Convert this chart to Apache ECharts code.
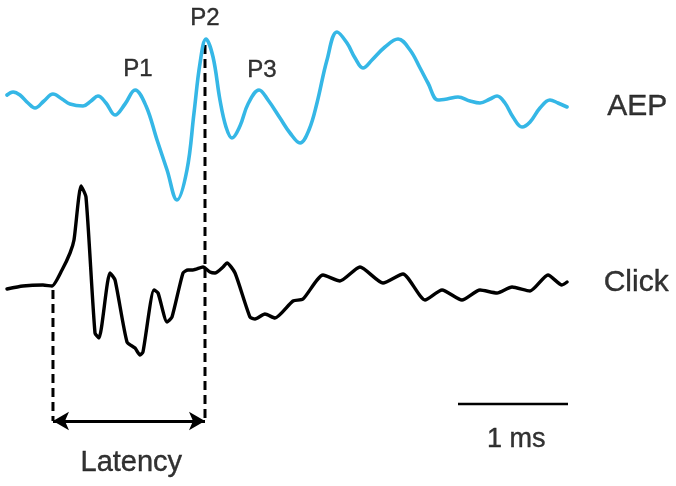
<!DOCTYPE html>
<html><head><meta charset="utf-8">
<script src="https://cdn.jsdelivr.net/npm/echarts@6/dist/echarts.min.js"></script>
<style>html,body{margin:0;padding:0;background:#fff}#c{width:676px;height:486px}</style>
</head><body><div id="c"></div>
<script>
// time in ms, amplitude in arbitrary units
const aepTime = [0,0.055,0.118,0.191,0.255,0.336,0.418,0.500,0.573,0.691,0.764,0.827,0.900,0.982,1.073,1.164,1.264,1.364,1.455,1.545,1.636,1.700,1.755,1.809,1.873,1.936,1.991,2.045,2.118,2.191,2.291,2.373,2.482,2.573,2.664,2.745,2.818,2.909,3.000,3.091,3.164,3.236,3.318,3.436,3.555,3.664,3.755,3.827,3.918,4.000,4.100,4.209,4.300,4.391,4.455,4.527,4.600,4.682,4.755,4.845,4.936,5.009,5.091];
const aepAmp  = [5,8,5,-3,-8,-1,6,1,-4,-6,-1,4,-3,-15,-4,10,-6,-40,-70,-100,-70,-13,37,61,43,0,-27,-38,-26,-4,10,0,-18,-33,-43,-30,-3,40,68,57,42,32,40,53,61,50,32,17,0,1,3,-1,-3,1,4,-3,-17,-27,-22,-8,0,-3,-7];
const clickTime = [0,0.145,0.327,0.409,0.5,0.573,0.609,0.673,0.718,0.8,0.836,0.936,0.982,1.091,1.164,1.209,1.236,1.336,1.373,1.455,1.5,1.6,1.645,1.691,1.782,1.845,1.891,1.964,2.0,2.073,2.209,2.255,2.345,2.436,2.6,2.691,2.873,3.027,3.209,3.418,3.6,3.8,3.955,4.136,4.3,4.455,4.591,4.755,4.918,5.045,5.091];
const clickAmp  = [-2,1,2,1,17,34,47,101,90,-46,-51,14,7,-55,-61,-68,-65,-3,-6,-35,-30,14,17,17,20,15,14,20,24,14,-30,-32,-27,-31,-14,-12,12,6,20,4,13,-13,-3,-13,-3,-6,0,-4,12,2,5];
const traceNames = ['AEP','Click'];
const peakNames = ['P1','P2','P3'];
const latencyStart = 0.418, latencyEnd = 1.800;
const scaleBarMs = 1;
const scaleBarLabel = '1 ms';
const latencyLabel = 'Latency';

const aepOffset = 386, clickOffset = 199;
const aepData = aepTime.map((t,i)=>[t, aepOffset + aepAmp[i]]);
const clickData = clickTime.map((t,i)=>[t, clickOffset + clickAmp[i]]);
const FONT = '"Liberation Sans", Arial, Helvetica, sans-serif';
const dash = {color:'#000', width:3, type:[9,5]};
const arrowY = 65;

function textSeries(items, size){
  return {type:'scatter', symbolSize:0, silent:true, z:5,
    data: items.map(d=>({name:d[0], value:[d[1],d[2]]})),
    label:{show:true, position:'inside', formatter:'{b}', color:'#000', fontSize:size, fontFamily:FONT, align:'center', verticalAlign:'middle', textBorderColor:'#000', textBorderWidth:0.4}};
}

const chart = echarts.init(document.getElementById('c'), null, {renderer:'canvas'});
chart.setOption({
  animation:false,
  grid:{left:7,right:9,top:0,bottom:0},
  xAxis:{type:'value',min:0,max:6,show:false},
  yAxis:{type:'value',min:0,max:486,show:false},
  series:[
    {type:'line', name:traceNames[0], data:aepData, smooth:0.38, showSymbol:false, lineStyle:{color:'#35b7e6', width:3.6, join:'round', cap:'round'}, z:3},
    {type:'line', name:traceNames[1], data:clickData, smooth:0.2, showSymbol:false, lineStyle:{color:'#000', width:3.4, join:'round', cap:'round'}, z:3},
    {type:'line', data:[[latencyStart,clickOffset-3],[latencyStart,arrowY]], showSymbol:false, lineStyle:dash, z:2},
    {type:'line', data:[[latencyEnd,aepOffset+55],[latencyEnd,arrowY]], showSymbol:false, lineStyle:dash, z:2},
    {type:'line', data:[[latencyStart,arrowY],[latencyEnd,arrowY]], showSymbol:false, lineStyle:{opacity:0},
      markLine:{silent:true, symbol:['arrow','arrow'], symbolSize:[14,16], label:{show:false},
        lineStyle:{color:'#000', width:3, type:'solid'},
        data:[[{coord:[latencyStart,arrowY]},{coord:[latencyEnd,arrowY]}]]}},
    {type:'line', data:[[4.1,82],[4.1+scaleBarMs,82]], showSymbol:false, lineStyle:{color:'#000', width:2.5}},
    textSeries([[peakNames[0],1.19,417],[peakNames[1],1.8,468],[peakNames[2],2.318,416]], 24),
    textSeries([[traceNames[0],5.73,379],[traceNames[1],5.72,203]], 30),
    textSeries([[latencyLabel,1.13,23]], 29),
    textSeries([[scaleBarLabel,4.63,46]], 27)
  ]
});
</script></body></html>
